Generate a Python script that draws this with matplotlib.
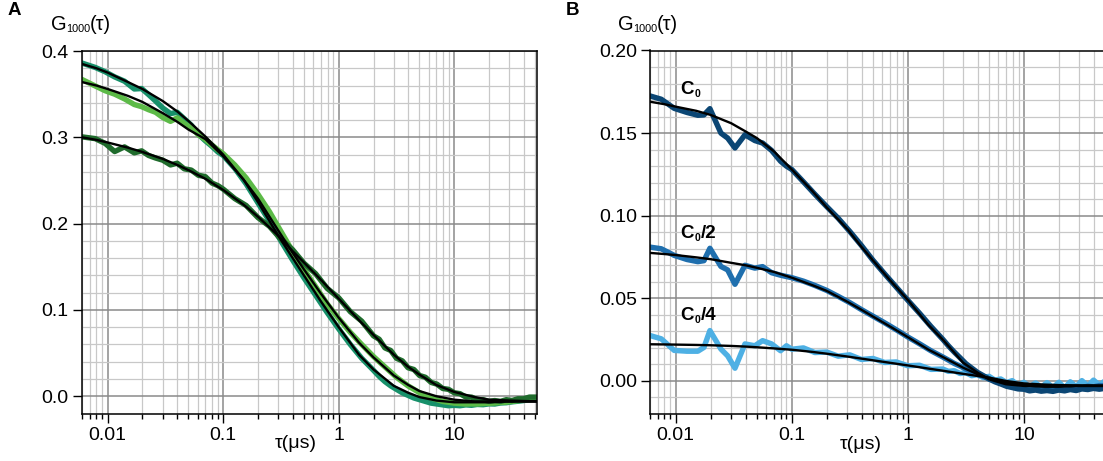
import numpy as np
import matplotlib
matplotlib.use("Agg")
import matplotlib.pyplot as plt
from matplotlib.ticker import (FixedLocator, MultipleLocator, FuncFormatter,
                               LogLocator, NullFormatter)

plt.rcParams['font.family'] = ['Liberation Sans', 'DejaVu Sans']

# ---------------- lag times (µs) ----------------
tau_fit = [0.006, 0.008, 0.01, 0.015, 0.02, 0.03, 0.04, 0.05, 0.07, 0.1, 0.15, 0.2,
           0.3, 0.4, 0.5, 0.7, 1, 1.5, 2, 3, 4, 5, 7, 10, 15, 20, 30, 52]

tau_mid_late = [0.1, 0.126, 0.158, 0.2, 0.251, 0.316, 0.398, 0.501, 0.631, 0.794, 1.0,
                1.26, 1.58, 2.0, 2.24, 2.51, 2.82, 3.16, 3.55, 3.98, 4.47, 5.01, 5.62,
                6.31, 7.08, 7.94, 8.91, 10, 11.2, 12.6, 14.1, 15.8, 17.8, 20, 22.4,
                25.1, 28.2, 31.6, 35.5, 39.8, 44.7, 52]

tau_A = [0.006, 0.0078, 0.0095, 0.0115, 0.014, 0.017, 0.0197, 0.0226, 0.026, 0.03,
         0.035, 0.04, 0.046, 0.053, 0.061, 0.07, 0.08, 0.09] + tau_mid_late

tau_B = [0.006, 0.0075, 0.0097, 0.0125, 0.0155, 0.0175, 0.0197, 0.0245, 0.028,
         0.0324, 0.0395, 0.048, 0.056, 0.067, 0.08, 0.09] + tau_mid_late

# ---------------- panel A: measured correlations ----------------
g_teal = [0.386, 0.381, 0.376, 0.370, 0.365, 0.356, 0.3565, 0.3495, 0.342, 0.334,
          0.3275, 0.329, 0.3215, 0.314, 0.3035, 0.296, 0.2895, 0.283,
          0.279, 0.264, 0.246, 0.224, 0.203, 0.180, 0.158, 0.137, 0.117, 0.097,
          0.078, 0.060, 0.044,
          0.030, 0.023, 0.017, 0.012, 0.008, 0.004, 0.001, -0.002, -0.004, -0.006,
          -0.008, -0.009, -0.010, -0.011, -0.0105, -0.011, -0.010, -0.0105, -0.0095,
          -0.0098, -0.0088, -0.009, -0.0078, -0.0075, -0.0065, -0.0058, -0.005,
          -0.004, -0.003]

g_light = [0.367, 0.3595, 0.354, 0.350, 0.3445, 0.338, 0.3355, 0.332, 0.329, 0.323,
           0.3185, 0.3225, 0.316, 0.311, 0.303, 0.2975, 0.291, 0.2855,
           0.281, 0.268, 0.253, 0.234, 0.214, 0.191, 0.168, 0.147, 0.127, 0.107,
           0.090, 0.074, 0.060,
           0.046, 0.040, 0.034, 0.028, 0.022, 0.017, 0.012, 0.008, 0.004, 0.001,
           -0.002, -0.004, -0.006, -0.007, -0.008, -0.0085, -0.009, -0.0088, -0.009,
           -0.0085, -0.0082, -0.0078, -0.0072, -0.0068, -0.006, -0.0052, -0.0042,
           -0.003, -0.002]

g_dark = [0.3005, 0.2985, 0.293, 0.2835, 0.2889, 0.282, 0.2843, 0.279, 0.276, 0.2735,
          0.268, 0.270, 0.2635, 0.262, 0.256, 0.2545, 0.247, 0.244,
          0.240, 0.229, 0.221, 0.207, 0.197, 0.182, 0.170, 0.154, 0.142, 0.125,
          0.114, 0.098, 0.087,
          0.070, 0.066, 0.056, 0.053, 0.044, 0.041, 0.033, 0.031, 0.024, 0.022,
          0.016, 0.014, 0.009, 0.008, 0.004, 0.003, -0.001, -0.001, -0.004, -0.004,
          -0.006, -0.005, -0.006, -0.004, -0.005, -0.003, -0.003, -0.001, -0.001]

# panel A: fitted curves
fit_teal = [0.385, 0.380, 0.375, 0.364, 0.356, 0.342, 0.330, 0.319, 0.301, 0.280,
            0.251, 0.225, 0.186, 0.160, 0.140, 0.110, 0.080, 0.048, 0.031, 0.012,
            0.004, -0.001, -0.005, -0.007, -0.007, -0.007, -0.006, -0.006]
fit_light = [0.364, 0.360, 0.356, 0.348, 0.341, 0.328, 0.318, 0.309, 0.298, 0.278,
             0.251, 0.229, 0.192, 0.166, 0.147, 0.119, 0.091, 0.062, 0.045, 0.024,
             0.013, 0.006, 0.000, -0.004, -0.006, -0.006, -0.006, -0.006]
fit_dark = [0.300, 0.297, 0.294, 0.288, 0.283, 0.275, 0.268, 0.262, 0.252, 0.239,
            0.222, 0.208, 0.186, 0.168, 0.155, 0.135, 0.113, 0.088, 0.071, 0.048,
            0.034, 0.025, 0.013, 0.005, -0.001, -0.004, -0.005, -0.006]

# ---------------- panel B: concentration series ----------------
g_c0 = [0.1725, 0.1705, 0.165, 0.1625, 0.1608, 0.161, 0.1648, 0.150, 0.147, 0.141,
        0.149, 0.1455, 0.144, 0.1395, 0.133, 0.130,
        0.128, 0.1205, 0.113, 0.1055, 0.0985, 0.0905, 0.082, 0.073, 0.0648, 0.0568,
        0.0488, 0.041, 0.033,
        0.0252, 0.0212, 0.0175, 0.014, 0.0105, 0.0078, 0.0052, 0.0032, 0.0012,
        -0.0005, -0.0018, -0.0032, -0.004, -0.0048, -0.005, -0.006, -0.0055, -0.0062,
        -0.0058, -0.0063, -0.0055, -0.006, -0.0052, -0.0058, -0.0048, -0.0052,
        -0.0045, -0.005, -0.0042]

g_c0_2 = [0.081, 0.080, 0.076, 0.0735, 0.0722, 0.0728, 0.0803, 0.0693, 0.0672, 0.0585,
          0.070, 0.0683, 0.0692, 0.0655, 0.064, 0.0632,
          0.0625, 0.0604, 0.0578, 0.0548, 0.0512, 0.0474, 0.0432, 0.0392, 0.0352,
          0.031, 0.0266, 0.0225, 0.0183,
          0.0145, 0.0126, 0.0106, 0.009, 0.0072, 0.0056, 0.004, 0.0028, 0.0012,
          0.0002, -0.001, -0.0016, -0.0026, -0.003, -0.0036, -0.004, -0.0046, -0.004,
          -0.0048, -0.0042, -0.0046, -0.004, -0.0044, -0.0036, -0.004, -0.0032,
          -0.0036, -0.0028, -0.003]

g_c0_4 = [0.0275, 0.0255, 0.0185, 0.018, 0.018, 0.0203, 0.0305, 0.0193, 0.0152, 0.0077,
          0.0224, 0.0213, 0.0244, 0.0224, 0.0183, 0.0213,
          0.0192, 0.0200, 0.0172, 0.0175, 0.0150, 0.0158, 0.0130, 0.0136, 0.0112,
          0.0115, 0.0092, 0.0095, 0.0070,
          0.0072, 0.0058, 0.0062, 0.0045, 0.005, 0.0032, 0.0038, 0.002, 0.0028,
          0.0005, 0.0012, -0.001, 0.0002, -0.0025, -0.0008, -0.0035, -0.0012, -0.0038,
          -0.001, -0.004, -0.0008, -0.0042, -0.0005, -0.0035, 0.0002, -0.003, 0.0005,
          -0.0025, 0.001]

fit_c0 = [0.169, 0.1675, 0.166, 0.1635, 0.161, 0.156, 0.151, 0.147, 0.139, 0.128,
          0.115, 0.105, 0.092, 0.081, 0.073, 0.061, 0.049, 0.034, 0.025, 0.011,
          0.005, 0.001, -0.002, -0.003, -0.0035, -0.0035, -0.003, -0.003]
fit_c0_2 = [0.0775, 0.0768, 0.0762, 0.0748, 0.0737, 0.0715, 0.070, 0.0685, 0.066,
            0.0625, 0.058, 0.0545, 0.048, 0.043, 0.039, 0.033, 0.0265, 0.019, 0.0145,
            0.008, 0.004, 0.0015, -0.001, -0.0025, -0.003, -0.003, -0.003, -0.003]
fit_c0_4 = [0.0222, 0.0221, 0.022, 0.0218, 0.0216, 0.0212, 0.0208, 0.0204, 0.0197,
            0.0189, 0.0176, 0.0165, 0.0148, 0.0135, 0.0125, 0.011, 0.0094, 0.0075,
            0.0062, 0.0043, 0.003, 0.002, 0.0, -0.0015, -0.0022, -0.0025, -0.0027,
            -0.0028]

labels_B_suffix = ['', '/2', '/4']
label_y_B = [0.1738, 0.0864, 0.0370]
label_tau_B = 0.011

# ---------------- figure ----------------
W, H = 1103, 461
fig = plt.figure(figsize=(W / 100, H / 100), dpi=100)


def fx(px):
    return px / W


def fy(py):
    return 1 - py / H


def px_box(x0, y0, x1, y1):
    return [x0 / W, 1 - y1 / H, (x1 - x0) / W, (y1 - y0) / H]


axA = fig.add_axes(px_box(82, 51, 537, 413.5))
axB = fig.add_axes(px_box(650, 50.5, 1107, 414))


def style(ax, ylim, ymajor, yminor, ydigits):
    ax.set_xscale('log')
    ax.set_xlim(0.006, 52)
    ax.set_ylim(*ylim)
    ax.xaxis.set_major_locator(FixedLocator([0.01, 0.1, 1, 10]))
    ax.xaxis.set_minor_locator(LogLocator(base=10, subs=np.arange(2, 10), numticks=30))
    ax.xaxis.set_minor_formatter(NullFormatter())
    ax.xaxis.set_major_formatter(FuncFormatter(lambda v, p: f"{v:g}"))
    ax.yaxis.set_major_locator(MultipleLocator(ymajor))
    ax.yaxis.set_minor_locator(MultipleLocator(yminor))
    ax.yaxis.set_major_formatter(
        FuncFormatter(lambda v, p: f"{0.0 if abs(v) < 1e-9 else v:.{ydigits}f}"))
    ax.grid(which='major', color='#8a8a8a', lw=1.1)
    ax.grid(which='minor', color='#c8c8c8', lw=0.9)
    ax.set_axisbelow(True)
    ax.tick_params(which='major', direction='out', length=6.5, width=1.0,
                   labelsize=14, pad=3, color='black')
    ax.tick_params(which='minor', direction='out', length=3.5, width=1.0)
    ax.tick_params(axis='y', which='minor', length=0)
    for s in ax.spines.values():
        s.set_linewidth(1.1)
        s.set_color('black')


style(axA, (-0.02, 0.4), 0.1, 0.02, 1)
style(axB, (-0.02, 0.2), 0.05, 0.01, 2)

data_kw = dict(lw=3.9, solid_joinstyle='round', solid_capstyle='round')
fit_kw = dict(color='black', lw=1.7)

axA.plot(tau_A, g_teal, color='#17906a', **data_kw)
axA.plot(tau_A, g_light, color='#5cba47', **data_kw)
axA.plot(tau_A, g_dark, color='#1f6b2c', **data_kw)
for f in (fit_teal, fit_light, fit_dark):
    axA.plot(tau_fit, f, **fit_kw)

axB.plot(tau_B, g_c0_4, color='#4eb0e4', **data_kw)
axB.plot(tau_B, g_c0_2, color='#1f6fae', **data_kw)
axB.plot(tau_B, g_c0, color='#0b4674', **data_kw)
for f in (fit_c0, fit_c0_2, fit_c0_4):
    axB.plot(tau_fit, f, **fit_kw)

# curve labels: bold C with a small subscript 0
for suffix, yv in zip(labels_B_suffix, label_y_B):
    x_disp, y_disp = axB.transData.transform((label_tau_B, yv))
    x0 = x_disp
    yb = H - y_disp  # baseline in pixels from top
    fig.text(fx(x0), fy(yb), 'C', fontsize=13.5, fontweight='bold',
             ha='left', va='baseline')
    fig.text(fx(x0 + 14.0), fy(yb + 3.2), '0', fontsize=7.5, fontweight='bold',
             ha='left', va='baseline')
    if suffix:
        fig.text(fx(x0 + 20.0), fy(yb), suffix, fontsize=13.5, fontweight='bold',
                 ha='left', va='baseline')


# G_1000(τ) axis titles built from pieces so the subscript stays small
def g_title(x_left, baseline):
    fig.text(fx(x_left), fy(baseline), 'G', fontsize=14.5, ha='left', va='baseline')
    fig.text(fx(x_left + 15.0), fy(baseline + 1.8), '1000', fontsize=7.8,
             ha='left', va='baseline')
    fig.text(fx(x_left + 38.5), fy(baseline), '(τ)', fontsize=14.5, ha='left',
             va='baseline')


g_title(51.5, 30.5)
g_title(618.0, 30.5)

fig.text(fx(296), fy(443), 'τ(μs)', fontsize=14, ha='center', va='center')
fig.text(fx(861), fy(444), 'τ(μs)', fontsize=14, ha='center', va='center')
fig.text(fx(8), fy(15), 'A', fontsize=13.5, fontweight='bold', ha='left',
         va='baseline')
fig.text(fx(566), fy(15), 'B', fontsize=13.5, fontweight='bold', ha='left',
         va='baseline')

fig.savefig('out.png', dpi=100)
